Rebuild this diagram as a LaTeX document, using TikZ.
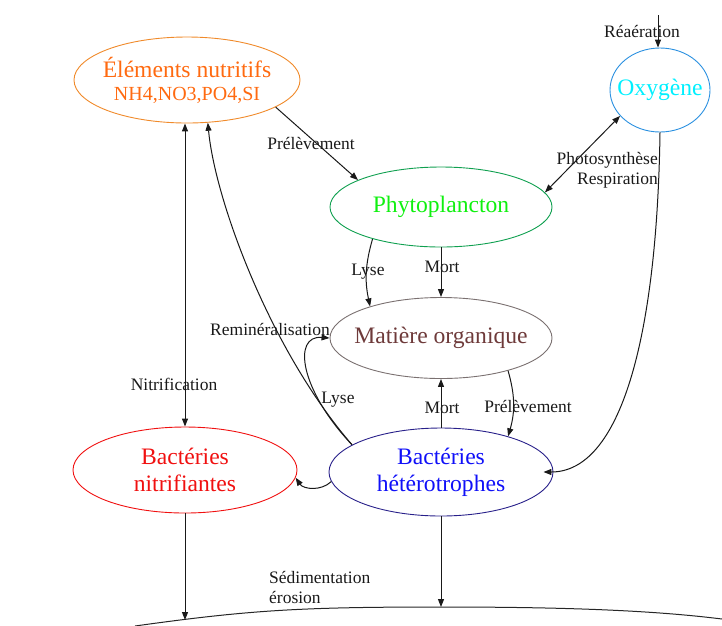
\documentclass[tikz,border=0pt]{standalone}
\usepackage{fontspec}
\setmainfont{Liberation Serif}
\usetikzlibrary{shapes.geometric,arrows.meta}
\definecolor{elOrange}{HTML}{FF6A10}
\definecolor{elBorder}{HTML}{F08A2A}
\definecolor{oxBorder}{HTML}{2A90E0}
\definecolor{oxText}{HTML}{00F0FF}
\definecolor{phBorder}{HTML}{10A050}
\definecolor{phText}{HTML}{10F010}
\definecolor{moBorder}{HTML}{7A7070}
\definecolor{moText}{HTML}{6E3A3A}
\definecolor{bnRed}{HTML}{F01010}
\definecolor{bhBorder}{HTML}{28208A}
\definecolor{bhText}{HTML}{1010F8}
\tikzset{
  comp/.style={ellipse, draw, line width=0.9pt, inner xsep=-16pt, inner ysep=0pt, align=center,
    font=\fontsize{23.6}{27}\selectfont},
  lbl/.style={font=\fontsize{17.5}{20}\selectfont, inner sep=0pt, text=black!90},
  flow/.style={line width=1pt, draw=black!90, -{Triangle[length=8pt,width=6pt]}},
  flow2/.style={line width=1pt, draw=black!90, {Triangle[length=8pt,width=6pt]}-{Triangle[length=8pt,width=6pt]}},
  ground/.style={line width=1pt, draw=black!85}
}
\begin{document}
\begin{tikzpicture}[x=1pt,y=-1pt]
\useasboundingbox (0,0) rectangle (722,625);
% components
\node[comp, draw=elBorder, text=elOrange, minimum width=226pt, minimum height=86pt] (el) at (187,80)
  {Éléments nutritifs\\[-4pt]{\fontsize{20}{22}\selectfont NH4,NO3,PO4,SI}};
\node[comp, draw=oxBorder, text=oxText, minimum width=100pt, minimum height=84pt] (ox) at (660,90) {Oxygène};
\node[comp, draw=phBorder, text=phText, minimum width=222pt, minimum height=80pt] (ph) at (441,207) {Phytoplancton};
\node[comp, draw=moBorder, text=moText, minimum width=222pt, minimum height=81pt] (mo) at (441,338) {Matière organique};
\node[comp, draw=bnRed, text=bnRed, minimum width=224pt, minimum height=86pt] (bn) at (185,470) {Bactéries\\nitrifiantes};
\node[comp, draw=bhBorder, text=bhText, minimum width=224pt, minimum height=88pt] (bh) at (441,472) {Bactéries\\hétérotrophes};

% free ends
\coordinate (rea) at (658,15);
\coordinate (sedA) at (185,620);
\coordinate (sedB) at (441,607);

% sediment line
\draw[ground] (135,626) .. controls (250,610) and (300,607) .. (sedB)
  .. controls (560,607) and (650,610) .. (722,619);

% connectors
\draw[flow] (rea) -- (ox.north -| rea);
\draw[flow] (el.-17) -- (ph.162);
\draw[flow2] (ox.-147) -- (ph.8);
\draw[flow] (ox.south) .. controls (657,340) and (620,472) .. ([xshift=-10pt]bh.east);
\draw[flow] (ph.south) -- (mo.north);
\draw[flow] (ph.-155) to[bend right=14] (mo.156);
\draw[flow2] (bn.north |- el.south) -- (bn.north);
\draw[flow] (bh.163) .. controls (270,350) and (215,200) .. (el.-64);
\draw[flow] (bh.163) .. controls (300,390) and (292,335) .. (mo.west);
\draw[flow] (bh.north) -- (mo.south);
\draw[flow] (mo.-26) to[bend left=16] (bh.28);
\draw[flow] (bh.-175) to[bend left=50] (bn.-4);
\draw[flow] (bn.south) -- (sedA);
\draw[flow] (bh.south) -- (sedB);

% labels
\node[lbl] (lrea) at (642,31) {Réaération};
\node[lbl] (lpre1) at (311,143) {Prélèvement};
\node[lbl, align=right, anchor=east] (lphot) at (658,170) {Photosynthèse\\Respiration};
\node[lbl] (llys1) at (368,272) {Lyse};
\node[lbl] (lmor1) at (442,267) {Mort};
\node[lbl] (lrem) at (270,329) {Reminéralisation};
\node[lbl] (lnit) at (174,384) {Nitrification};
\node[lbl] (llys2) at (338,400) {Lyse};
\node[lbl] (lmor2) at (442,408) {Mort};
\node[lbl] (lpre2) at (528,406) {Prélèvement};
\node[lbl, align=left, anchor=north west] (lsed) at (269,571) {Sédimentation\\érosion};
\end{tikzpicture}
\end{document}
